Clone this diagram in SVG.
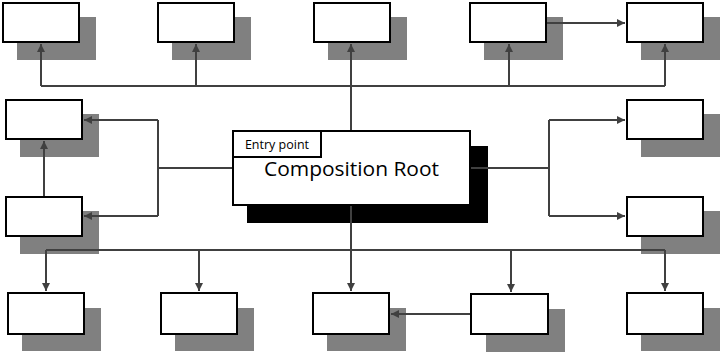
<svg xmlns="http://www.w3.org/2000/svg" width="724" height="354" viewBox="0 0 724 354">
<style>
.sh{fill:#808080;}
.bx{fill:#fff;stroke:#000;stroke-width:2;}
.ln{fill:none;stroke:#404040;stroke-width:2;}
.ar{fill:none;stroke:#404040;stroke-width:2;marker-end:url(#ah);}
.t{font-family:"Open Sans","Noto Sans",sans-serif;fill:#000;}
</style>
<defs>
<marker id="ah" markerUnits="userSpaceOnUse" markerWidth="9" markerHeight="9" refX="8" refY="4" orient="auto">
<path d="M0,0 L8,4 L0,8 z" fill="#404040"/>
</marker>
</defs>
<rect width="724" height="354" fill="#fff"/>
<g id="shadows">
<rect class="sh" x="17" y="17" width="79" height="43"/>
<rect class="sh" x="172" y="17" width="79" height="43"/>
<rect class="sh" x="328" y="17" width="79" height="43"/>
<rect class="sh" x="484" y="17" width="79" height="43"/>
<rect class="sh" x="641" y="17" width="79" height="43"/>
<rect class="sh" x="20" y="114" width="79" height="43"/>
<rect class="sh" x="20" y="211" width="79" height="43"/>
<rect class="sh" x="641" y="114" width="79" height="43"/>
<rect class="sh" x="641" y="211" width="79" height="43"/>
<rect class="sh" x="22" y="308" width="79" height="43"/>
<rect class="sh" x="175" y="308" width="79" height="43"/>
<rect class="sh" x="327" y="308" width="79" height="43"/>
<rect class="sh" x="486" y="309" width="79" height="43"/>
<rect class="sh" x="641" y="308" width="79" height="43"/>
<rect fill="#000" x="247" y="146" width="241" height="77"/>
</g>
<g id="connectors">
<path class="ln" d="M41,86 H665"/>
<path class="ar" d="M351,130 V44"/>
<path class="ar" d="M41,86 V44"/>
<path class="ar" d="M196,86 V44"/>
<path class="ar" d="M509,86 V44"/>
<path class="ar" d="M665,86 V44"/>
<path class="ar" d="M547,23 H625"/>
<path class="ln" d="M232,168 H158 M158,120 V216"/>
<path class="ar" d="M158,120 H84"/>
<path class="ar" d="M158,216 H84"/>
<path class="ar" d="M44,196 V141"/>
<path class="ln" d="M471,168 H549 M549,120 V216"/>
<path class="ar" d="M549,120 H625"/>
<path class="ar" d="M549,216 H625"/>
<path class="ln" d="M46,250 H665"/>
<path class="ar" d="M351,206 V291"/>
<path class="ar" d="M46,250 V291"/>
<path class="ar" d="M199,250 V291"/>
<path class="ar" d="M511,250 V292"/>
<path class="ar" d="M665,250 V291"/>
<path class="ar" d="M470,314 H391"/>
</g>
<g id="n-top1"><rect class="bx" x="3" y="3" width="76" height="39"/></g>
<g id="n-top2"><rect class="bx" x="158" y="3" width="76" height="39"/></g>
<g id="n-top3"><rect class="bx" x="314" y="3" width="76" height="39"/></g>
<g id="n-top4"><rect class="bx" x="470" y="3" width="76" height="39"/></g>
<g id="n-top5"><rect class="bx" x="627" y="3" width="76" height="39"/></g>
<g id="n-left1"><rect class="bx" x="6" y="100" width="76" height="39"/></g>
<g id="n-left2"><rect class="bx" x="6" y="197" width="76" height="39"/></g>
<g id="n-right1"><rect class="bx" x="627" y="100" width="76" height="39"/></g>
<g id="n-right2"><rect class="bx" x="627" y="197" width="76" height="39"/></g>
<g id="n-bot1"><rect class="bx" x="8" y="293" width="76" height="41"/></g>
<g id="n-bot2"><rect class="bx" x="161" y="293" width="76" height="41"/></g>
<g id="n-bot3"><rect class="bx" x="313" y="293" width="76" height="41"/></g>
<g id="n-bot4"><rect class="bx" x="471" y="294" width="77" height="40"/></g>
<g id="n-bot5"><rect class="bx" x="627" y="293" width="76" height="41"/></g>
<g id="n-root">
<rect class="bx" x="233" y="131" width="237" height="74"/>
<text class="t" x="351.5" y="176" font-size="20" text-anchor="middle" textLength="175" lengthAdjust="spacingAndGlyphs">Composition Root</text>
</g>
<g id="n-entry">
<rect class="bx" x="233" y="131" width="88" height="26"/>
<text class="t" x="277" y="149" font-size="12.5" text-anchor="middle">Entry point</text>
</g>
</svg>
